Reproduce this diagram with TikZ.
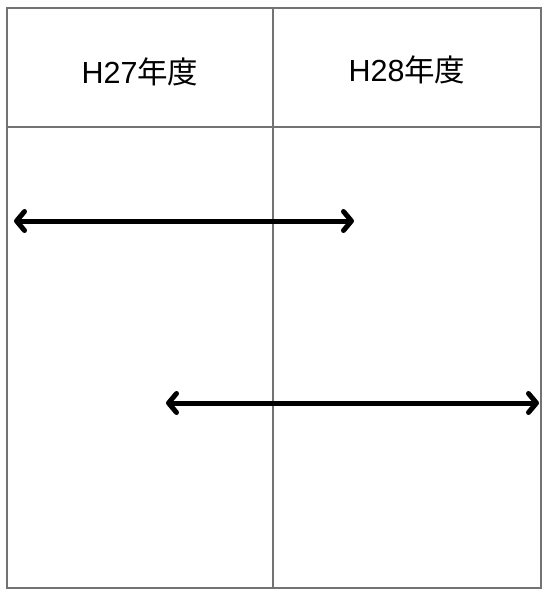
\documentclass[tikz,border=0pt]{standalone}
\usepackage{fontspec}
\setmainfont{Liberation Sans}
\newfontfamily\cjk{Noto Sans CJK JP}
\usetikzlibrary{arrows.meta}
\begin{document}
\begin{tikzpicture}[x=1pt,y=-1pt,
  gridline/.style={draw=black!55,line width=1.2pt},
  period/.style={line width=5pt,{Straight Barb[length=8pt,width=19pt,line cap=round,line join=round]}-{Straight Barb[length=8pt,width=19pt,line cap=round,line join=round]}},
  hdr/.style={font=\fontsize{30.5}{34}\selectfont,anchor=center}]
\useasboundingbox (0,0) rectangle (543,592);
\fill[white] (0,0) rectangle (543,592);
\coordinate (tl) at (7,8);
\coordinate (br) at (541,588);
\draw[gridline] (tl) rectangle (br);
\draw[gridline] (7,127) -- (541,127);
\draw[gridline] (273,8) -- (273,588);
\node[hdr] (h27) at (140,72) {H27{\cjk 年度}};
\node[hdr] (h28) at (407,70) {H28{\cjk 年度}};
\coordinate (a1s) at (14,221);
\coordinate (a1e) at (354,221);
\coordinate (a2s) at (166,403);
\coordinate (a2e) at (539,403);
\draw[period] (a1s) -- (a1e);
\draw[period] (a2s) -- (a2e);
\end{tikzpicture}
\end{document}
